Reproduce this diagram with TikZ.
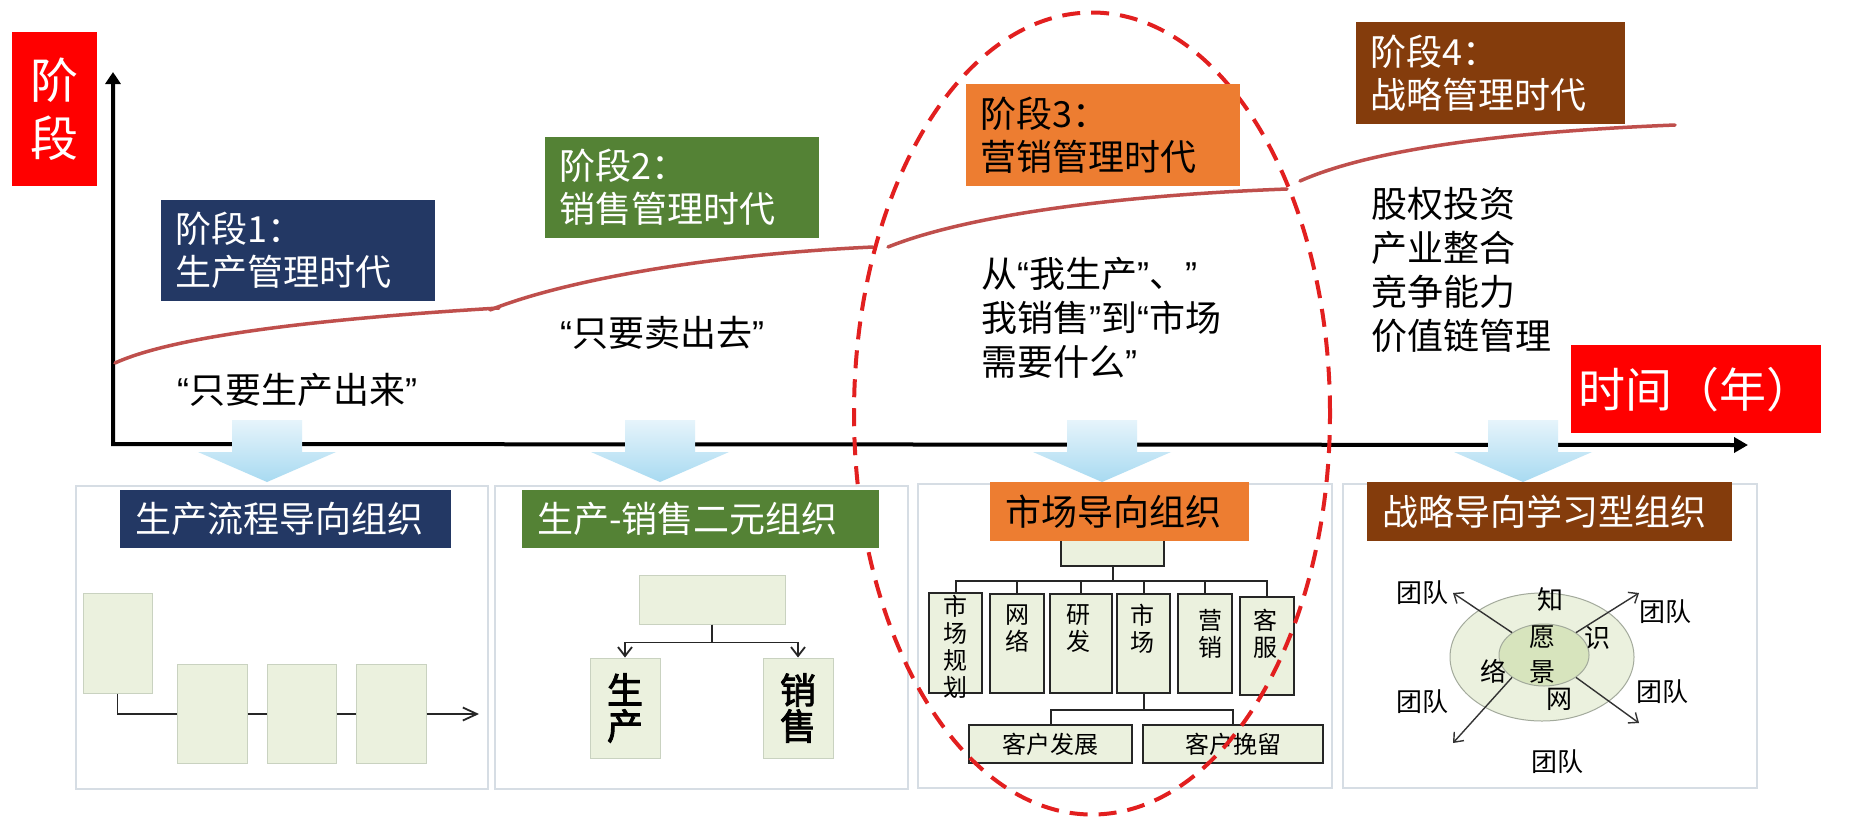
\documentclass[tikz,border=0pt]{standalone}
\usepackage{fontspec}
\setmainfont{Noto Sans CJK SC}
\newfontfamily\cjkfb[FakeBold=2.5]{Noto Sans CJK SC}
\newfontfamily\quotefont{Liberation Sans}
\newcommand\myoq{{\quotefont “}}
\newcommand\mycq{{\quotefont ”}}
\usetikzlibrary{arrows.meta,shapes.geometric}
\definecolor{navy}{HTML}{233864}
\definecolor{sgreen}{HTML}{548235}
\definecolor{sorange}{HTML}{ED7D31}
\definecolor{sbrown}{HTML}{843C0C}
\definecolor{curvecol}{HTML}{BF4F4C}
\definecolor{boxfill}{HTML}{EBF1DE}
\definecolor{innerfill}{HTML}{D7E4BD}
\definecolor{pboxline}{HTML}{C9D2C0}
\definecolor{panelgray}{HTML}{D6DDE4}
\definecolor{ringgray}{HTML}{A3AA9C}
\definecolor{dashred}{HTML}{E21F1F}
\definecolor{blueA}{HTML}{E6F4FB}
\definecolor{blueB}{HTML}{A8DAF1}
\tikzset{
  stagebox/.style={anchor=north west, inner xsep=14pt, inner ysep=0pt, align=left, font=\fontsize{36}{43}\selectfont},
  titlebox/.style={anchor=north west, inner xsep=15pt, inner ysep=0pt, minimum height=58pt, align=left, font=\fontsize{36}{40}\selectfont},
  qtext/.style={inner sep=0pt, font=\fontsize{36}{44}\selectfont},
  panel/.style={draw=panelgray, line width=1.5pt, fill=white, inner sep=0pt},
  pbox/.style={draw=pboxline, line width=1pt, fill=boxfill, inner sep=0pt},
  obox/.style={draw=black!85, line width=2pt, fill=boxfill, inner sep=0pt},
  conn/.style={draw=black!85, line width=1.8pt},
  oconn/.style={draw=black!85, line width=2pt},
  vt/.style={inner sep=0pt, align=center, font=\fontsize{24}{27}\selectfont},
  st/.style={inner sep=0pt, font=\fontsize{26}{28}\selectfont},
  axisline/.style={line width=4pt, line join=miter, {Triangle[length=12pt,width=15pt]}-{Triangle[length=14pt,width=15pt]}},
  curve/.style={draw=curvecol, line width=3.5pt, line cap=round},
  tarrow/.style={draw=black!80, line width=1.4pt, -{Straight Barb[length=8pt,width=13pt]}},
}
\begin{document}
\begin{tikzpicture}[x=1pt,y=-1pt]
\fill[white] (0,0) rectangle (1854,820);
\useasboundingbox (0,0) rectangle (1854,820);

% axes
\coordinate (O) at (113,444);
\coordinate (ytop) at (113,72);
\coordinate (xend) at (1748,445);
\draw[axisline] (ytop) -- (O) -- (xend);

% stage curve
\draw[curve] (115,363) .. controls (170,338) and (300,320) .. (499,308);
\draw[curve] (490,310) .. controls (560,282) and (700,255) .. (873,247);
\draw[curve] (888,247) .. controls (960,218) and (1100,196) .. (1287,189);
\draw[curve] (1300,181) .. controls (1370,150) and (1500,132) .. (1675,125);

% quote texts
\node[qtext] (q1) at (297,390) {\myoq 只要生产出来\mycq};
\node[qtext] (q2) at (662,333) {\myoq 只要卖出去\mycq};
\node[qtext, anchor=west, align=left] (q3) at (981,318) {从\myoq 我生产\mycq、\mycq\\我销售\mycq 到\myoq 市场\\需要什么\mycq};
\node[qtext, anchor=west, align=left] (q4) at (1371,270) {股权投资\\产业整合\\竞争能力\\价值链管理};

% down arrows
\foreach \c in {267,660,1102,1523}{
  \shade[top color=blueA, bottom color=blueB]
    (\c-35,420) -- (\c+35,420) -- (\c+35,452) -- (\c+69,452) -- (\c,482) -- (\c-69,452) -- (\c-35,452) -- cycle;
}

% panels
\node[panel, minimum width=412pt, minimum height=303pt] (p1) at (282,637.5) {};
\node[panel, minimum width=413pt, minimum height=303pt] (p2) at (701.5,637.5) {};
\node[panel, minimum width=414pt, minimum height=304pt] (p3) at (1125,636) {};
\node[panel, minimum width=414pt, minimum height=304pt] (p4) at (1550,636) {};

% panel 1 content
\node[pbox, minimum width=69pt, minimum height=100pt] (A) at (117.5,643) {};
\node[pbox, minimum width=70pt, minimum height=99pt] (B) at (212,714) {};
\node[pbox, minimum width=69pt, minimum height=99pt] (C) at (301.5,714) {};
\node[pbox, minimum width=70pt, minimum height=99pt] (D) at (391,714) {};
\coordinate (aend) at (479,714);
\draw[conn] (A.south) |- (B.west);
\draw[conn] (B) -- (C);
\draw[conn] (C) -- (D);
\draw[conn, -{Straight Barb[length=14pt,width=13pt]}] (D) -- (aend);

% panel 2 content
\node[pbox, minimum width=146pt, minimum height=49pt] (T) at (712,599.5) {};
\node[pbox, minimum width=70pt, minimum height=100pt, align=center, font=\cjkfb\fontsize{36}{36}\selectfont] (S1) at (625,708) {生\\产};
\node[pbox, minimum width=70pt, minimum height=100pt, align=center, font=\cjkfb\fontsize{36}{36}\selectfont] (S2) at (798,708) {销\\售};
\draw[conn, -{Straight Barb[length=9pt,width=14pt]}] (T.south) -- ++(0,18) -| (S1.north);
\draw[conn, -{Straight Barb[length=9pt,width=14pt]}] (T.south) -- ++(0,18) -| (S2.north);

% panel 3 content
\node[obox, minimum width=103pt, minimum height=29pt] (TT) at (1112.5,551) {};
\node[obox, minimum width=53pt, minimum height=100pt] (b1) at (955.5,643) {};
\node[obox, minimum width=54pt, minimum height=99pt] (b2) at (1017,643.5) {};
\node[obox, minimum width=62pt, minimum height=99pt] (b3) at (1081,643.5) {};
\node[obox, minimum width=53pt, minimum height=99pt] (b4) at (1143.5,643.5) {};
\node[obox, minimum width=54pt, minimum height=99pt] (b5) at (1205,643.5) {};
\node[obox, minimum width=54pt, minimum height=98pt] (b6) at (1267,646) {};
\foreach \b in {b1,b2,b3,b4,b5,b6}{
  \draw[oconn] (TT.south) -- ++(0,14) -| (\b.north);
}
\node[vt] (l1) at (955.5,647) {市\\场\\规\\划};
\node[vt] (l2) at (1017,628.5) {网\\络};
\node[vt] (l3) at (1078,629) {研\\发};
\node[vt] (l4) at (1142,629) {市\\场};
\node[vt] (l5) at (1210,633.5) {营\\销};
\node[vt] (l6) at (1265,633.5) {客\\服};
\node[obox, minimum width=163pt, minimum height=38pt, font=\fontsize{24}{27}\selectfont] (c1) at (1050.5,744) {客户发展};
\node[obox, minimum width=180pt, minimum height=38pt, font=\fontsize{24}{27}\selectfont] (c2) at (1233,744) {客户挽留};
\draw[oconn] (b4.south) -- ++(0,16) -| (c1.north);
\draw[oconn] (b4.south) -- ++(0,16) -| (c2.north);

% panel 4 content
\node[ellipse, draw=ringgray, line width=1pt, fill=boxfill, minimum width=184pt, minimum height=128pt, inner sep=0pt] (ring) at (1542,657) {};
\node[ellipse, draw=ringgray, line width=1pt, fill=innerfill, minimum width=90pt, minimum height=62pt, inner sep=0pt] (vis) at (1544,655) {};
\node[st] (k1) at (1550,600) {知};
\node[st] (k2) at (1542,637) {愿};
\node[st] (k3) at (1542,672) {景};
\node[st] (k4) at (1597,638) {识};
\node[st] (k5) at (1493,671) {络};
\node[st] (k6) at (1559,699) {网};
\coordinate (e1) at (1453,593);
\coordinate (e2) at (1639,593);
\coordinate (e3) at (1639,723);
\coordinate (e4) at (1453,743);
\draw[tarrow] (vis.145) -- (e1);
\draw[tarrow] (vis.35) -- (e2);
\draw[tarrow] (vis.-35) -- (e3);
\draw[tarrow] (vis.-145) -- (e4);
\node[st] (g1) at (1422,593) {团队};
\node[st] (g2) at (1665,612) {团队};
\node[st] (g3) at (1422,702) {团队};
\node[st] (g4) at (1662,692) {团队};
\node[st] (g5) at (1557,762) {团队};

% dashed focus ellipse
\draw[dashred, line width=4pt, dash pattern=on 18pt off 11pt] (1092,413.5) ellipse [x radius=238pt, y radius=401pt];

% panel titles
\node[titlebox, fill=navy, text=white, text width=301pt] (t1) at (120,490) {生产流程导向组织};
\node[titlebox, fill=sgreen, text=white, text width=327pt] (t2) at (522,490) {生产-销售二元组织};
\node[titlebox, fill=sorange, text=black, text width=229pt, minimum height=59pt] (t3) at (990,482) {市场导向组织};
\node[titlebox, fill=sbrown, text=white, text width=335pt, minimum height=59pt] (t4) at (1367,482) {战略导向学习型组织};

% stage boxes
\node[stagebox, fill=navy, text=white, text width=246pt, minimum height=101pt] (s1) at (161,200) {阶段1：\\生产管理时代};
\node[stagebox, fill=sgreen, text=white, text width=246pt, minimum height=101pt] (s2) at (545,137) {阶段2：\\销售管理时代};
\node[stagebox, fill=sorange, text=black, text width=246pt, minimum height=102pt] (s3) at (966,84) {阶段3：\\营销管理时代};
\node[stagebox, fill=sbrown, text=white, text width=241pt, minimum height=102pt] (s4) at (1356,22) {阶段4：\\战略管理时代};

% axis labels
\node[fill=red, text=white, minimum width=85pt, minimum height=154pt, anchor=north west, inner sep=0pt, align=center, font=\fontsize{48}{58}\selectfont] (ylab) at (12,32) {阶\\段};
\node[fill=red, text=white, minimum width=250pt, minimum height=88pt, anchor=north west, inner sep=0pt, font=\fontsize{47}{52}\selectfont] (xlab) at (1571,345) {时间（年）};
\end{tikzpicture}
\end{document}
